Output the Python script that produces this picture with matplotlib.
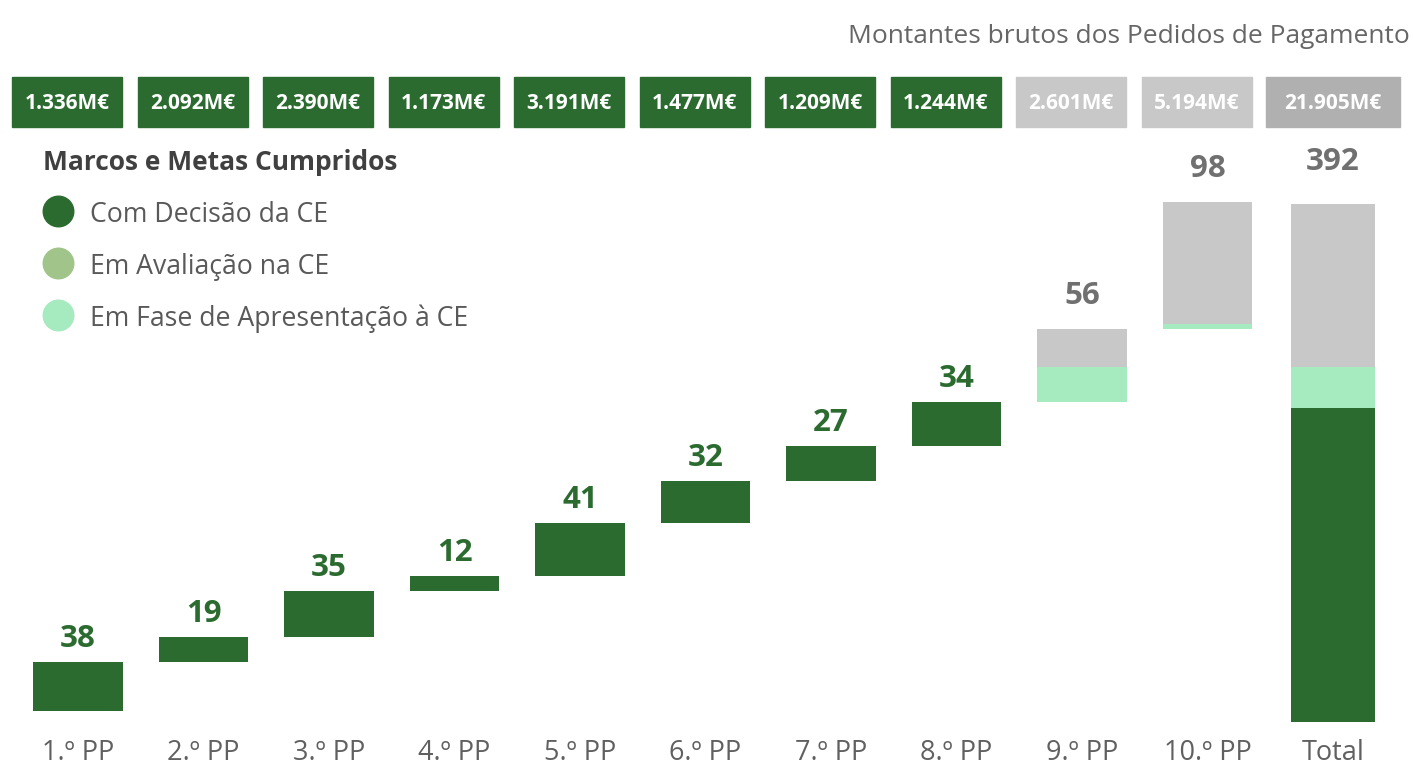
import matplotlib.pyplot as plt
from matplotlib.patches import Rectangle
from matplotlib.transforms import blended_transform_factory

plt.rcParams['font.family'] = ['Open Sans', 'Noto Sans', 'DejaVu Sans']

# dados
categorias = ['1.º PP', '2.º PP', '3.º PP', '4.º PP', '5.º PP', '6.º PP',
              '7.º PP', '8.º PP', '9.º PP', '10.º PP', 'Total']
com_decisao = [38, 19, 35, 12, 41, 32, 27, 34, 0, 0]
em_avaliacao = [0, 0, 0, 0, 0, 0, 0, 0, 0, 0]
em_apresentacao = [0, 0, 0, 0, 0, 0, 0, 0, 27, 4]
por_submeter = [0, 0, 0, 0, 0, 0, 0, 0, 29, 94]
montantes = ['1.336M€', '2.092M€', '2.390M€', '1.173M€', '3.191M€', '1.477M€',
             '1.209M€', '1.244M€', '2.601M€', '5.194M€', '21.905M€']

titulo = 'Montantes brutos dos Pedidos de Pagamento'
legenda_titulo = 'Marcos e Metas Cumpridos'
legenda_itens = ['Com Decisão da CE', 'Em Avaliação na CE', 'Em Fase de Apresentação à CE']

# cores
verde = '#2B6B30'
verde_medio = '#A0C48A'
verde_claro = '#A6EABF'
cinza = '#C8C8C8'
cinza_total = '#B0B0B0'
cinza_texto = '#606060'

W, H = 1413, 765
fig = plt.figure(figsize=(W / 100, H / 100), dpi=100)

# escala em pixeis: colunas a 125.5px, ~1.3px por unidade
ax = fig.add_axes([0, 0, 1, 1])
ax.axis('off')
ax.set_xlim(-78 / 125.5, (W - 78) / 125.5)
ax.set_ylim(-54 / 1.299, (H - 54) / 1.299)

series = [(com_decisao, verde), (em_avaliacao, verde_medio),
          (em_apresentacao, verde_claro), (por_submeter, cinza)]

base = 0
for i in range(len(com_decisao)):
    b = base
    for vals, cor in series:
        if vals[i]:
            ax.bar(i, vals[i], bottom=b, width=0.717, color=cor, linewidth=0)
            b += vals[i]
    pendente = em_apresentacao[i] + por_submeter[i] > 0
    ax.annotate(str(b - base), (i, b), xytext=(0, (25 if pendente else 15) * 0.72),
                textcoords='offset points', ha='center', va='baseline',
                fontsize=22.5, fontweight='bold', color='#707070' if pendente else verde)
    base = b

# barra do total (eixo proprio)
ax2 = fig.add_axes([0, 0, 1, 1], sharex=ax)
ax2.axis('off')
ax2.patch.set_visible(False)
ax2.set_ylim(-43 / 1.321, (H - 43) / 1.321)
n = len(com_decisao)
b = 0
for vals, cor in series:
    v = sum(vals)
    if v:
        ax2.bar(n, v, bottom=b, width=0.67, color=cor, linewidth=0)
        b += v
ax2.annotate(str(b), (n, b), xytext=(0, 34 * 0.72), textcoords='offset points',
             ha='center', va='baseline', fontsize=22.5, fontweight='bold', color='#707070')

# caixas com montantes
trans = blended_transform_factory(ax.transData, fig.transFigure)
for i, m in enumerate(montantes):
    if i < n:
        cx, w = i - 11 / 125.5, 110 / 125.5
        cor = verde if i < 8 else cinza
    else:
        cx, w = i, 134 / 125.5
        cor = cinza_total
    ax.add_patch(Rectangle((cx - w / 2, 1 - 127 / H), w, 50 / H, transform=trans,
                           color=cor, clip_on=False))
    ax.text(cx, 1 - 109 / H, m, transform=trans, ha='center', va='baseline',
            fontsize=15, fontweight='bold', color='white')

# rotulos do eixo x
for i, c in enumerate(categorias):
    ax.text(i, 1 - 760 / H, c, transform=trans, ha='center', va='baseline',
            fontsize=19.5, color=cinza_texto)

# titulo
fig.text(1410 / W, 1 - 43 / H, titulo, ha='right', va='baseline', fontsize=19, color='#666666')

# legenda
fig.text(43 / W, 1 - 170 / H, legenda_titulo, ha='left', va='baseline',
         fontsize=19, fontweight='bold', color='#404040')
for k, (txt, cor) in enumerate(zip(legenda_itens, [verde, verde_medio, verde_claro])):
    yc = 211 + 52 * k
    fig.lines.append(plt.Line2D([58 / W], [1 - yc / H], marker='o', markersize=22,
                                color=cor, linewidth=0, transform=fig.transFigure))
    fig.text(90 / W, 1 - (yc + 11) / H, txt, ha='left', va='baseline',
             fontsize=19.2, color='#595959')

fig.savefig('out.png', dpi=100, facecolor='white')
